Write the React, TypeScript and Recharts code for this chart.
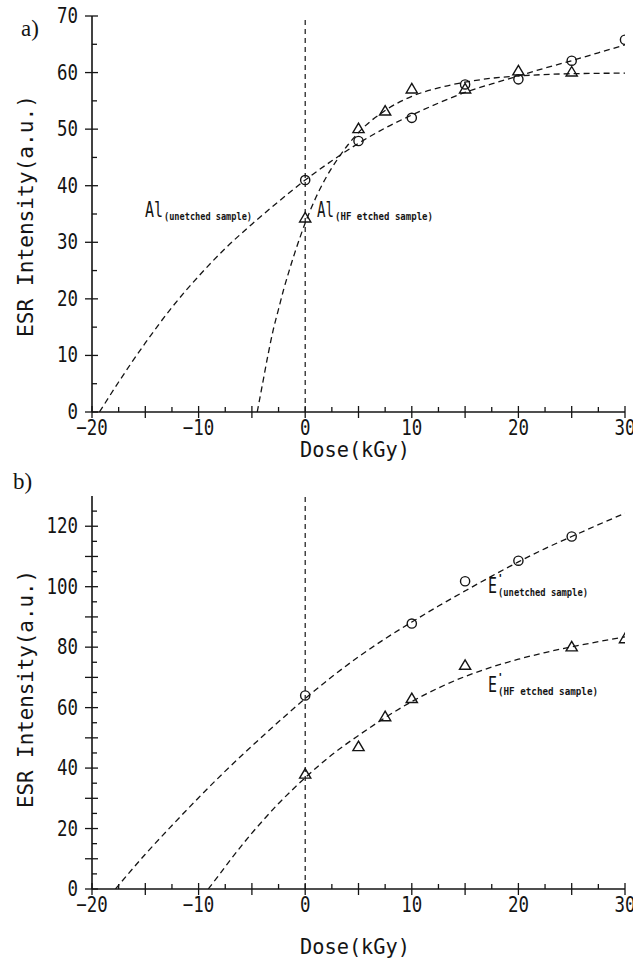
import React from 'react';
import { ComposedChart, Line, Scatter, XAxis, YAxis, ReferenceLine } from 'recharts';

type Pt = [number, number];

// shared dose axis
const doseTicks = [-20, -17.5, -15, -12.5, -10, -7.5, -5, -2.5, 0, 2.5, 5, 7.5, 10, 12.5, 15, 17.5, 20, 22.5, 25, 27.5, 30];
const doseMajor = [-20, -15, -10, -5, 0, 5, 10, 15, 20, 25, 30];
const doseLabels = [-20, -10, 0, 10, 20, 30];

// panel a) Al centre
const aTicks = [0, 5, 10, 15, 20, 25, 30, 35, 40, 45, 50, 55, 60, 65, 70];
const aMajor = [0, 10, 20, 30, 40, 50, 60, 70];
const aLabels = [0, 10, 20, 30, 40, 50, 60, 70];

const aUnetched: Pt[] = [[0, 41], [5, 47.9], [10, 52], [15, 57.9], [20, 58.8], [25, 62.1], [30, 65.8]];
const aEtched: Pt[] = [[0, 34.3], [5, 50.1], [7.5, 53.2], [10, 57.1], [15, 57.1], [20, 60.3], [25, 60.1]];

const aUnetchedFit: Pt[] = [
  [-19.3, 0], [-17.5, 5.3], [-15, 12.2], [-12.5, 18.5], [-10, 24], [-7.5, 28.9], [-5, 33.2], [-2.5, 37.2],
  [0, 41], [2.5, 44.4], [5, 47.5], [7.5, 50.2], [10, 52.5], [12.5, 54.6], [15, 56.5], [17.5, 58],
  [20, 59.4], [22.5, 60.8], [25, 62.1], [27.5, 63.5], [30, 64.9],
];
const aEtchedFit: Pt[] = [
  [-4.5, 0], [-4, 5], [-3.5, 10], [-3, 14.5], [-2.5, 18.2], [-2, 21.8], [-1.5, 25], [-1, 28], [-0.5, 30.8],
  [0, 33.4], [1, 37.9], [2, 41.6], [3, 44.6], [4, 47.2], [5, 49.4], [7.5, 53.3], [10, 55.8], [12.5, 57.3],
  [15, 58.3], [17.5, 59], [20, 59.4], [25, 59.8], [30, 59.9],
];

// panel b) E' centre
const bTicks = [0, 5, 10, 15, 20, 25, 30, 35, 40, 45, 50, 55, 60, 65, 70, 75, 80, 85, 90, 95, 100, 105, 110, 115, 120, 125];
const bMajor = [0, 10, 20, 30, 40, 50, 60, 70, 80, 90, 100, 110, 120];
const bLabels = [0, 20, 40, 60, 80, 100, 120];

const bUnetched: Pt[] = [[0, 64], [10, 87.8], [15, 101.8], [20, 108.6], [25, 116.6]];
const bEtched: Pt[] = [[0, 38], [5, 47.1], [7.5, 57], [10, 63], [15, 74], [25, 80.1], [30, 82.8]];

const bUnetchedFit: Pt[] = [
  [-17.8, 0], [-15, 11.5], [-12.5, 21], [-10, 30.2], [-7.5, 39], [-5, 47.3], [-2.5, 55.3], [0, 63],
  [2.5, 70.2], [5, 76.8], [7.5, 82.8], [10, 88.3], [12.5, 93.6], [15, 98.6], [17.5, 103.5], [20, 108.2],
  [22.5, 112.6], [25, 116.6], [27.5, 120.5], [30, 124.3],
];
const bEtchedFit: Pt[] = [
  [-9.1, 0], [-8, 5], [-7, 9.7], [-6, 14.2], [-5, 18.5], [-4, 22.5], [-2.5, 28.3], [-1, 33.5], [0, 36.8],
  [2.5, 44.4], [5, 50.8], [7.5, 56.7], [10, 62], [12.5, 66.5], [15, 70.3], [17.5, 73.4], [20, 76],
  [22.5, 78.2], [25, 80.1], [27.5, 81.8], [30, 83.4],
];

const INK = '#141414';
const MONO = '"DejaVu Sans Mono", monospace';
const SERIF = '"Liberation Serif", "Times New Roman", serif';

const rows = (pts: Pt[]) => pts.map(([x, y]) => ({ x, y }));
const fmt = (v: number) => (v < 0 ? `\u2212${-v}` : String(v));

function BottomTick(props: any) {
  const { x, y, payload, major, labels } = props;
  const v = payload.value;
  const big = major.includes(v);
  const s = fmt(v);
  return (
    <g>
      <line x1={x} x2={x} y1={y - (big ? 6 : 5)} y2={big ? y + 6 : y} stroke={INK} strokeWidth={1.3} />
      {labels.includes(v) && (
        <text x={x} y={y + 16} textAnchor="middle" dominantBaseline="central" fontFamily={MONO} fontSize={21}
          textLength={s.length * 10.5} lengthAdjust="spacingAndGlyphs" fill={INK}>{s}</text>
      )}
    </g>
  );
}

function TopTick(props: any) {
  const { x, y, payload, major } = props;
  const big = major.includes(payload.value);
  return <line x1={x} x2={x} y1={y} y2={y + (big ? 6 : 4)} stroke={INK} strokeWidth={1.3} />;
}

function LeftTick(props: any) {
  const { x, y, payload, major, labels } = props;
  const v = payload.value;
  const big = major.includes(v);
  const s = fmt(v);
  return (
    <g>
      <line x1={big ? x - 7 : x} x2={x + (big ? 6 : 5)} y1={y} y2={y} stroke={INK} strokeWidth={1.3} />
      {labels.includes(v) && (
        <text x={x - 14} y={y} textAnchor="end" dominantBaseline="central" fontFamily={MONO} fontSize={21}
          textLength={s.length * 10.5} lengthAdjust="spacingAndGlyphs" fill={INK}>{s}</text>
      )}
    </g>
  );
}

function RightTick(props: any) {
  const { x, y, payload, major } = props;
  const big = major.includes(payload.value);
  return <line x1={x - (big ? 6 : 5)} x2={x} y1={y} y2={y} stroke={INK} strokeWidth={1.3} />;
}

const Ring = (p: any) => <circle cx={p.cx} cy={p.cy} r={4.6} fill="none" stroke={INK} strokeWidth={1.4} />;
const Tri = (p: any) => (
  <path d={`M${p.cx},${p.cy - 5.5}L${p.cx + 5.6},${p.cy + 4}L${p.cx - 5.6},${p.cy + 4}Z`} fill="none" stroke={INK} strokeWidth={1.4} />
);

type PanelProps = {
  height: number;
  margin: { top: number; right: number; bottom: number; left: number };
  yMax: number;
  yTicks: number[];
  yMajor: number[];
  yLabels: number[];
  fits: Pt[][];
  circles: Pt[];
  triangles: Pt[];
};

function Panel({ height, margin, yMax, yTicks, yMajor, yLabels, fits, circles, triangles }: PanelProps) {
  const axisLine = { stroke: INK, strokeWidth: 1.6 };
  return (
    <ComposedChart width={633} height={height} margin={margin}>
      <XAxis dataKey="x" type="number" domain={[-20, 30]} allowDataOverflow ticks={doseTicks} interval={0}
        height={40} tickSize={0} tickMargin={0} axisLine={axisLine}
        tick={<BottomTick major={doseMajor} labels={doseLabels} />} />
      <XAxis xAxisId="t" orientation="top" type="number" domain={[-20, 30]} allowDataOverflow ticks={doseTicks} interval={0}
        height={0} tickSize={0} tickMargin={0} axisLine={axisLine} tick={<TopTick major={doseMajor} />} />
      <YAxis dataKey="y" type="number" domain={[0, yMax]} allowDataOverflow ticks={yTicks} interval={0}
        width={92} tickSize={0} tickMargin={0} axisLine={axisLine}
        tick={<LeftTick major={yMajor} labels={yLabels} />} />
      <YAxis yAxisId="r" orientation="right" type="number" domain={[0, yMax]} allowDataOverflow ticks={yTicks} interval={0}
        width={0} tickSize={0} tickMargin={0} axisLine={axisLine} tick={<RightTick major={yMajor} />} />
      <ReferenceLine x={0} stroke={INK} strokeWidth={1.2} strokeDasharray="5 4" />
      {fits.map((f, i) => (
        <Line key={i} data={rows(f)} dataKey="y" type="monotone" stroke={INK} strokeWidth={1.3}
          strokeDasharray="6 4" dot={false} activeDot={false} isAnimationActive={false} />
      ))}
      <Scatter data={rows(circles)} dataKey="y" shape={Ring} isAnimationActive={false} />
      <Scatter data={rows(triangles)} dataKey="y" shape={Tri} isAnimationActive={false} />
    </ComposedChart>
  );
}

// curve name with a small bold subscript, drawn as one text element
function Tag({ x, y, name, nameW, prime, sub, subW }: { x: number; y: number; name: string; nameW: number; prime?: boolean; sub: string; subW: number }) {
  return (
    <text x={x} y={y} fontFamily={MONO} fontSize={21} fill={INK}>
      <tspan textLength={nameW} lengthAdjust="spacingAndGlyphs">{name}</tspan>
      {prime && <tspan x={x + nameW} y={y - 11} fontSize={11} fontWeight={700}>'</tspan>}
      <tspan x={x + nameW + 1} y={y + 3} fontSize={10} fontWeight={700} textLength={subW} lengthAdjust="spacingAndGlyphs">{sub}</tspan>
    </text>
  );
}

function Labels() {
  return (
    <svg width={633} height={961} style={{ position: 'absolute', left: 0, top: 0, pointerEvents: 'none' }}>
      <g fill={INK}>
        <text x={21} y={36} fontFamily={SERIF} fontSize={23}>a)</text>
        <text x={13} y={489} fontFamily={SERIF} fontSize={23}>b)</text>

        <text transform="translate(33,216) rotate(-90)" textAnchor="middle" fontFamily={MONO} fontSize={22}
          textLength={242} lengthAdjust="spacingAndGlyphs">ESR Intensity(a.u.)</text>
        <text transform="translate(33,689) rotate(-90)" textAnchor="middle" fontFamily={MONO} fontSize={22}
          textLength={238} lengthAdjust="spacingAndGlyphs">ESR Intensity(a.u.)</text>

        <text x={355} y={457} textAnchor="middle" fontFamily={MONO} fontSize={22} textLength={110}
          lengthAdjust="spacingAndGlyphs">Dose(kGy)</text>
        <text x={355} y={954} textAnchor="middle" fontFamily={MONO} fontSize={22} textLength={110}
          lengthAdjust="spacingAndGlyphs">Dose(kGy)</text>
      </g>
      <Tag x={145} y={217} name="Al" nameW={18} sub="(unetched sample)" subW={88} />
      <Tag x={317} y={217} name="Al" nameW={17} sub="(HF etched sample)" subW={98} />
      <Tag x={488} y={593} name="E" nameW={9} prime sub="(unetched sample)" subW={90} />
      <Tag x={488} y={692} name="E" nameW={9} prime sub="(HF etched sample)" subW={100} />
    </svg>
  );
}

export default function App() {
  return (
    <div style={{ position: 'absolute', left: 0, top: 0, width: 633, height: 961, background: '#fff' }}>
      <div style={{ position: 'absolute', left: 0, top: 0 }}>
        <Panel height={470} margin={{ top: 16, right: 8, bottom: 18, left: 0 }} yMax={70}
          yTicks={aTicks} yMajor={aMajor} yLabels={aLabels}
          fits={[aUnetchedFit, aEtchedFit]} circles={aUnetched} triangles={aEtched} />
      </div>
      <div style={{ position: 'absolute', left: 0, top: 470 }}>
        <Panel height={491} margin={{ top: 26, right: 8, bottom: 32, left: 0 }} yMax={130}
          yTicks={bTicks} yMajor={bMajor} yLabels={bLabels}
          fits={[bUnetchedFit, bEtchedFit]} circles={bUnetched} triangles={bEtched} />
      </div>
      <Labels />
    </div>
  );
}
